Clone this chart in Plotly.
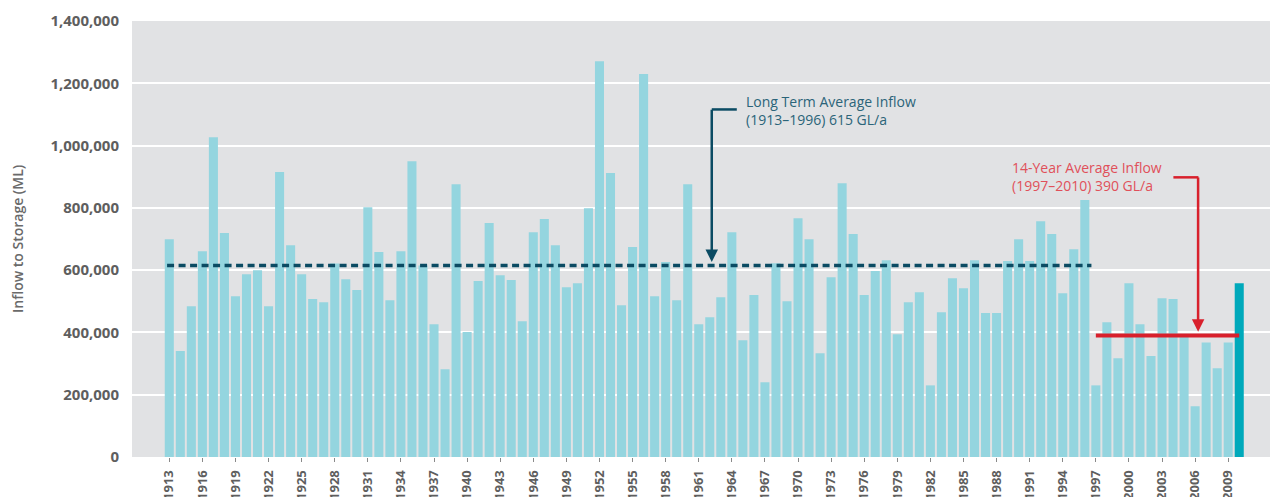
import plotly.graph_objects as go

# ---- data ----
years = list(range(1913, 2011))
inflow_ml = [
    699000, 340000, 484000, 661000, 1027000, 719000, 516000, 587000, 600000, 484000,  # 1913-1922
    915000, 680000, 587000, 507000, 497000, 621000, 571000, 536000, 802000, 658000,   # 1923-1932
    503000, 661000, 950000, 615000, 426000, 282000, 876000, 401000, 565000, 751000,   # 1933-1942
    584000, 568000, 436000, 722000, 764000, 680000, 545000, 558000, 799000, 1271000,  # 1943-1952
    912000, 487000, 674000, 1230000, 516000, 626000, 503000, 876000, 426000, 449000,  # 1953-1962
    513000, 722000, 375000, 520000, 240000, 622000, 500000, 767000, 699000, 333000,   # 1963-1972
    577000, 879000, 716000, 520000, 597000, 632000, 394000, 497000, 529000, 230000,   # 1973-1982
    465000, 574000, 542000, 632000, 462000, 462000, 629000, 699000, 629000, 757000,   # 1983-1992
    716000, 526000, 667000, 825000, 230000, 433000, 317000, 558000, 426000, 324000,   # 1993-2002
    510000, 507000, 388000, 163000, 368000, 285000, 368000, 558000,                   # 2003-2010
]
tick_years = years[::3]
tick_labels = [str(y) for y in tick_years]
y_ticks = [0, 200000, 400000, 600000, 800000, 1000000, 1200000, 1400000]

long_term_avg = 615000
long_term_span = (1913, 1996)
recent_avg = 390000
recent_span = (1997, 2010)

long_label = "Long Term Average Inflow<br>(1913–1996) 615 GL/a"
recent_label = "14-Year Average Inflow<br>(1997–2010) 390 GL/a"
y_title = "Inflow to Storage (ML)"

# ---- styles ----
BAR = "#94D5DF"
BAR_LAST = "#00A9BB"
NAVY = "#0B4B63"
NAVY_TXT = "#2B6479"
RED = "#D8202C"
RED_TXT = "#E0505A"
GREY = "#5E5E5E"

colors = [BAR_LAST if y == years[-1] else BAR for y in years]

fig = go.Figure()
fig.add_trace(go.Bar(x=years, y=inflow_ml, marker=dict(color=colors, line=dict(width=0)),
                     hoverinfo="x+y"))

# long term average dashed line
fig.add_shape(type="line", xref="x", yref="y",
              x0=long_term_span[0] - 0.2, x1=long_term_span[1] + 0.6,
              y0=long_term_avg, y1=long_term_avg,
              line=dict(color=NAVY, width=3.5, dash="7px,4.5px"))
# recent average red line
fig.add_shape(type="line", xref="x", yref="y",
              x0=recent_span[0], x1=recent_span[1],
              y0=recent_avg, y1=recent_avg,
              line=dict(color=RED, width=4))

# navy callout: horizontal segment + arrow
fig.add_shape(type="line", xref="x", yref="y", x0=1962.18, x1=1964.45,
              y0=1116000, y1=1116000, line=dict(color=NAVY, width=2.5))
fig.add_annotation(x=1962.18, y=626000, ax=1962.18, ay=1120000, axref="x", ayref="y",
                   xref="x", yref="y", text="", showarrow=True, arrowhead=2,
                   arrowsize=1, arrowwidth=2.5, arrowcolor=NAVY)
fig.add_annotation(x=1965.1, y=1113000, xref="x", yref="y", text=long_label,
                   showarrow=False, xanchor="left", yanchor="middle", align="left",
                   font=dict(family="Open Sans", size=14, color=NAVY_TXT))

# red callout
fig.add_shape(type="line", xref="x", yref="y", x0=2004.03, x1=2006.3,
              y0=898000, y1=898000, line=dict(color=RED, width=2.5))
fig.add_annotation(x=2006.27, y=402000, ax=2006.27, ay=902000, axref="x", ayref="y",
                   xref="x", yref="y", text="", showarrow=True, arrowhead=2,
                   arrowsize=1, arrowwidth=2.5, arrowcolor=RED)
fig.add_annotation(x=2003.14, y=901000, xref="x", yref="y", text=recent_label,
                   showarrow=False, xanchor="right", yanchor="middle", align="left",
                   font=dict(family="Open Sans", size=14, color=RED_TXT))

# y axis title placed as rotated text
fig.add_annotation(x=(17 - 132) / 1140, y=0.5, xref="paper", yref="paper",
                   text=y_title, textangle=-90, showarrow=False,
                   xanchor="center", yanchor="middle",
                   font=dict(family="Open Sans", size=14, color="#6A6A6A", weight=600))

fig.update_layout(
    width=1270, height=489,
    margin=dict(l=124, r=6, t=13, b=40),
    paper_bgcolor="white", plot_bgcolor="#E1E2E4",
    bargap=0.18, showlegend=False,
    font=dict(family="Open Sans", color=GREY),
)
fig.update_xaxes(range=[1909.62, 2012.97], tickvals=tick_years, ticktext=tick_labels,
                 tickangle=-90, ticks="outside", ticklen=4, tickcolor="#8A8A8A",
                 showgrid=False, zeroline=False, automargin=False, ticklabelstandoff=3,
                 tickfont=dict(family="Open Sans", size=13, color=GREY, weight="bold"))
fig.update_yaxes(range=[0, 1400000], tickvals=y_ticks, tickformat=",d",
                 showgrid=True, gridcolor="white", gridwidth=2, zeroline=False,
                 automargin=False, ticklabelstandoff=12,
                 tickfont=dict(family="Open Sans", size=15, color=GREY, weight="bold"))

fig.write_html("out.html")
